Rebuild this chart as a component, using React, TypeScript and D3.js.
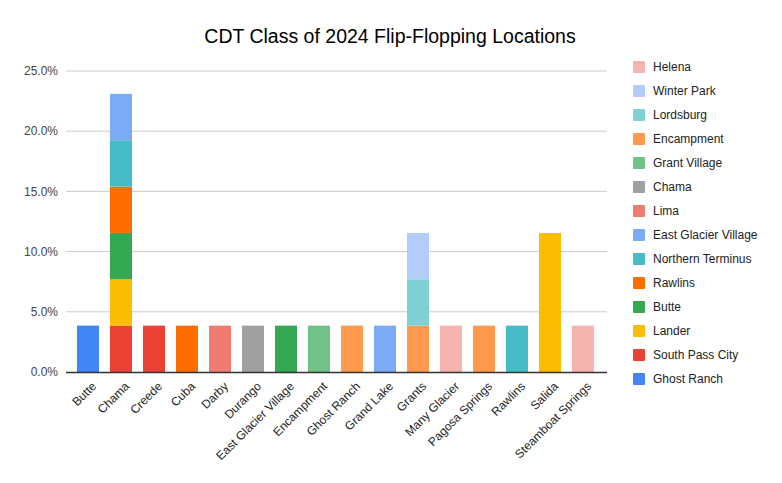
import { useEffect, useRef } from "react";
import { select, scaleBand, scaleLinear, stack } from "d3";

const WIDTH = 782;
const HEIGHT = 483;
const FONT = "Arial, 'Liberation Sans', sans-serif";

const CATEGORIES = [
  "Butte",
  "Chama",
  "Creede",
  "Cuba",
  "Darby",
  "Durango",
  "East Glacier Village",
  "Encampment",
  "Ghost Ranch",
  "Grand Lake",
  "Grants",
  "Many Glacier",
  "Pagosa Springs",
  "Rawlins",
  "Salida",
  "Steamboat Springs",
];

// series in stacking order (bottom first)
const SERIES = [
  "Ghost Ranch",
  "South Pass City",
  "Lander",
  "Butte",
  "Rawlins",
  "Northern Terminus",
  "East Glacier Village",
  "Lima",
  "Chama",
  "Grant Village",
  "Encampment",
  "Lordsburg",
  "Winter Park",
  "Helena",
];

const COLORS = [
  "#4285f4",
  "#ea4335",
  "#fbbc04",
  "#34a853",
  "#ff6d01",
  "#46bdc6",
  "#7baaf7",
  "#f07b72",
  "#a0a0a0",
  "#71c287",
  "#ff994d",
  "#7ed1d7",
  "#b3cefb",
  "#f7b4ae",
];

// percent values, one row per series, one column per category
const VALUES: number[][] = [
  [3.85, 0, 0, 0, 0, 0, 0, 0, 0, 0, 0, 0, 0, 0, 0, 0],
  [0, 3.85, 3.85, 0, 0, 0, 0, 0, 0, 0, 0, 0, 0, 0, 0, 0],
  [0, 3.85, 0, 0, 0, 0, 0, 0, 0, 0, 0, 0, 0, 0, 11.54, 0],
  [0, 3.85, 0, 0, 0, 0, 3.85, 0, 0, 0, 0, 0, 0, 0, 0, 0],
  [0, 3.85, 0, 3.85, 0, 0, 0, 0, 0, 0, 0, 0, 0, 0, 0, 0],
  [0, 3.85, 0, 0, 0, 0, 0, 0, 0, 0, 0, 0, 0, 3.85, 0, 0],
  [0, 3.85, 0, 0, 0, 0, 0, 0, 0, 3.85, 0, 0, 0, 0, 0, 0],
  [0, 0, 0, 0, 3.85, 0, 0, 0, 0, 0, 0, 0, 0, 0, 0, 0],
  [0, 0, 0, 0, 0, 3.85, 0, 0, 0, 0, 0, 0, 0, 0, 0, 0],
  [0, 0, 0, 0, 0, 0, 0, 3.85, 0, 0, 0, 0, 0, 0, 0, 0],
  [0, 0, 0, 0, 0, 0, 0, 0, 3.85, 0, 3.85, 0, 3.85, 0, 0, 0],
  [0, 0, 0, 0, 0, 0, 0, 0, 0, 0, 3.85, 0, 0, 0, 0, 0],
  [0, 0, 0, 0, 0, 0, 0, 0, 0, 0, 3.85, 0, 0, 0, 0, 0],
  [0, 0, 0, 0, 0, 0, 0, 0, 0, 0, 0, 3.85, 0, 0, 0, 3.85],
];

const Y_TICKS = [0, 5, 10, 15, 20, 25];

const PLOT = { left: 66, right: 607, top: 71, bottom: 372 };

export default function App() {
  const svgRef = useRef<SVGSVGElement | null>(null);

  useEffect(() => {
    document.body.style.margin = "0";
    const svg = svgRef.current;
    if (!svg) {
      return;
    }
    const root = select(svg);
    root.selectAll("*").remove();

    const rows = CATEGORIES.map((name, i) => {
      const row: Record<string, number | string> = { name };
      SERIES.forEach((s, j) => {
        row[s] = VALUES[j][i];
      });
      return row;
    });
    const layers = stack<Record<string, number | string>>().keys(SERIES)(rows);

    const x = scaleBand<string>()
      .domain(CATEGORIES)
      .range([71.5, 599.5])
      .paddingInner(1 / 3)
      .paddingOuter(1 / 6);
    const y = scaleLinear().domain([0, 25]).range([PLOT.bottom, PLOT.top]);

    root
      .append("rect")
      .attr("width", WIDTH)
      .attr("height", HEIGHT)
      .attr("fill", "#ffffff");

    root
      .append("text")
      .attr("x", 390)
      .attr("y", 43)
      .attr("text-anchor", "middle")
      .attr("font-family", FONT)
      .attr("font-size", "19.5px")
      .attr("fill", "#000000")
      .text("CDT Class of 2024 Flip-Flopping Locations");

    const grid = root.append("g");
    Y_TICKS.forEach((t) => {
      if (t > 0) {
        grid
          .append("line")
          .attr("x1", PLOT.left)
          .attr("x2", PLOT.right)
          .attr("y1", y(t))
          .attr("y2", y(t))
          .attr("stroke", "#cccccc")
          .attr("stroke-width", 1);
      }
      grid
        .append("text")
        .attr("x", 58)
        .attr("y", y(t))
        .attr("dy", "0.35em")
        .attr("text-anchor", "end")
        .attr("font-family", FONT)
        .attr("font-size", "12px")
        .attr("fill", "#444444")
        .text(`${t.toFixed(1)}%`);
    });

    const bars = root.append("g");
    layers.forEach((layer, j) => {
      layer.forEach((d, i) => {
        if (d[1] - d[0] <= 0) {
          return;
        }
        bars
          .append("rect")
          .attr("x", x(CATEGORIES[i]) ?? 0)
          .attr("width", x.bandwidth())
          .attr("y", y(d[1]))
          .attr("height", y(d[0]) - y(d[1]))
          .attr("fill", COLORS[j]);
      });
    });

    root
      .append("line")
      .attr("x1", PLOT.left)
      .attr("x2", PLOT.right)
      .attr("y1", PLOT.bottom + 0.5)
      .attr("y2", PLOT.bottom + 0.5)
      .attr("stroke", "#333333")
      .attr("stroke-width", 1.5);

    const xLabels = root.append("g");
    CATEGORIES.forEach((c) => {
      const cx = (x(c) ?? 0) + x.bandwidth() / 2 + 6;
      xLabels
        .append("text")
        .attr("transform", `translate(${cx},${PLOT.bottom + 12}) rotate(-45)`)
        .attr("text-anchor", "end")
        .attr("dy", "0.35em")
        .attr("font-family", FONT)
        .attr("font-size", "12px")
        .attr("fill", "#222222")
        .text(c);
    });

    const legend = root.append("g");
    const legendOrder = SERIES.map((s, j) => ({ s, color: COLORS[j] })).reverse();
    legendOrder.forEach((item, k) => {
      const cy = 67 + k * 24;
      legend
        .append("rect")
        .attr("x", 633)
        .attr("y", cy - 6)
        .attr("width", 12)
        .attr("height", 12)
        .attr("rx", 1)
        .attr("fill", item.color);
      legend
        .append("text")
        .attr("x", 653)
        .attr("y", cy)
        .attr("dy", "0.35em")
        .attr("font-family", FONT)
        .attr("font-size", "12px")
        .attr("fill", "#222222")
        .text(item.s);
    });
  }, []);

  return <svg ref={svgRef} width={WIDTH} height={HEIGHT} style={{ display: "block" }} />;
}
